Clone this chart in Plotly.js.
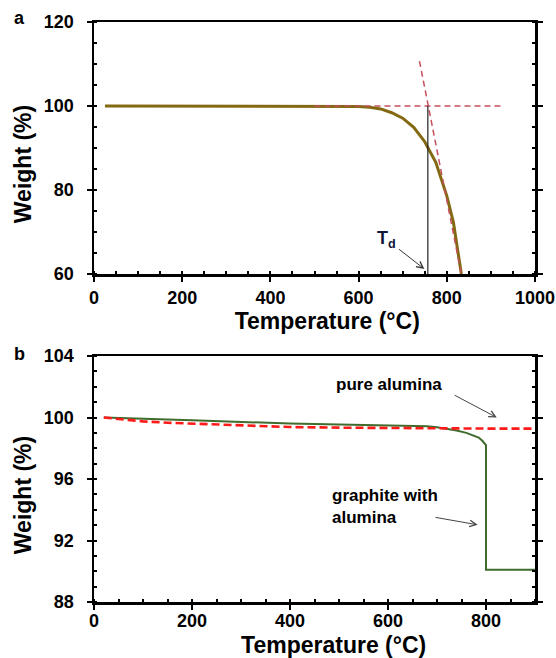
<!DOCTYPE html>
<html>
<head>
<meta charset="utf-8">
<script src="https://cdn.plot.ly/plotly-3.0.1.min.js"></script>
<style>html,body{margin:0;padding:0;background:#fff;overflow:hidden;}#chart{width:556px;height:658px;}</style>
</head>
<body>
<div id="chart"></div>
<script>
// Panel a: TGA curve
const tempA   = [25, 100, 200, 300, 400, 500, 550, 600, 625, 650, 675, 700, 725, 750, 775, 800, 815, 825, 833];
const weightA = [100, 100, 100, 100, 100, 100, 100, 99.9, 99.7, 99.3, 98.4, 97.1, 94.9, 91.5, 86.6, 78.6, 72.3, 65.8, 60];
// onset construction lines
const baseX = [500, 922];   const baseY = [100, 100];
const tangX = [738, 833];   const tangY = [110.7, 60];
const tdX   = [757, 757];   const tdY   = [60, 100];

// Panel b
const tempGraphite   = [20, 50, 100, 150, 200, 250, 300, 400, 500, 550, 600, 650, 680, 700, 720, 740, 760, 775, 785, 792, 797, 800, 800, 900];
const weightGraphite = [100, 99.98, 99.93, 99.87, 99.82, 99.76, 99.70, 99.61, 99.54, 99.51, 99.50, 99.48, 99.43, 99.36, 99.27, 99.15, 99.0, 98.85, 98.7, 98.5, 98.35, 98.2, 90.1, 90.1];
const tempAlumina    = [20, 50, 100, 150, 200, 300, 400, 500, 600, 700, 800, 900];
const weightAlumina  = [100, 99.9, 99.75, 99.66, 99.6, 99.47, 99.38, 99.34, 99.31, 99.29, 99.28, 99.28];

const xTicksA = [0, 200, 400, 600, 800, 1000];
const yTicksA = [60, 80, 100, 120];
const xTicksB = [0, 200, 400, 600, 800];
const yTicksB = [88, 92, 96, 100, 104];

const FONT = 'Liberation Sans, Arial, sans-serif';
const tickFont = {family: FONT, size: 18, color: '#000', weight: 700};
const titleFont = {family: FONT, size: 23, color: '#000', weight: 700};
const pad = n => '<span>' + '\u00a0'.repeat(n) + '</span>';

function axisBase(mirror) {
  return {
    showline: true, linewidth: 2.5, linecolor: '#000', mirror: mirror,
    showgrid: false, zeroline: false,
    ticks: 'outside', ticklen: 5, tickwidth: 2, tickcolor: '#000',
    tickfont: tickFont, automargin: false, fixedrange: true,
    ticklabeloverflow: 'allow'
  };
}

const traces = [
  {x: tempA, y: weightA, xaxis: 'x', yaxis: 'y', mode: 'lines', line: {color: '#836912', width: 3}},
  {x: baseX, y: baseY, xaxis: 'x', yaxis: 'y', mode: 'lines', line: {color: '#c4505c', width: 1.5, dash: '6px,4px'}},
  {x: tangX, y: tangY, xaxis: 'x', yaxis: 'y', mode: 'lines', line: {color: '#c4505c', width: 1.5, dash: '6px,4px'}},
  {x: tdX, y: tdY, xaxis: 'x', yaxis: 'y', mode: 'lines', line: {color: '#222', width: 1.2}},
  {x: tempGraphite, y: weightGraphite, xaxis: 'x2', yaxis: 'y2', mode: 'lines', line: {color: '#3f6b2c', width: 2}},
  {x: tempAlumina, y: weightAlumina, xaxis: 'x2', yaxis: 'y2', mode: 'lines', line: {color: '#ff1a1a', width: 2.6, dash: '8px,4px'}}
];

const layout = {
  width: 556, height: 658,
  margin: {l: 94, r: 21, t: 22, b: 56},
  paper_bgcolor: '#fff', plot_bgcolor: '#fff',
  showlegend: false,
  xaxis: Object.assign(axisBase(true), {
    anchor: 'y', domain: [0, 1], range: [0, 1000],
    tickvals: xTicksA, ticktext: xTicksA.map(String), ticklabelstandoff: 1,
    minor: {dtick: 50, ticks: 'inside', ticklen: 3, tickwidth: 2, tickcolor: '#000'},
    title: {text: pad(4) + 'Temperature (°C)', font: titleFont, standoff: 0}
  }),
  yaxis: Object.assign(axisBase('all'), {
    anchor: 'x', domain: [0.5655, 1], range: [60, 120],
    tickvals: yTicksA, ticktext: yTicksA.map(String), ticklabelstandoff: 9,
    minor: {dtick: 5, ticks: 'inside', ticklen: 3, tickwidth: 2, tickcolor: '#000'},
    title: {text: 'Weight (%)' + pad(5), font: titleFont, standoff: 6}
  }),
  xaxis2: Object.assign(axisBase(true), {
    anchor: 'y2', domain: [0, 1], range: [0, 900],
    tickvals: xTicksB, ticktext: xTicksB.map(String), ticklabelstandoff: -4,
    minor: {dtick: 50, ticks: 'inside', ticklen: 3, tickwidth: 2, tickcolor: '#000'},
    title: {text: pad(6) + 'Temperature (°C)', font: titleFont, standoff: 8}
  }),
  yaxis2: Object.assign(axisBase('all'), {
    anchor: 'x2', domain: [0, 0.4241], range: [88, 104],
    tickvals: yTicksB, ticktext: yTicksB.map(String), ticklabelstandoff: 9,
    minor: {dtick: 1, ticks: 'inside', ticklen: 3, tickwidth: 2, tickcolor: '#000'},
    title: {text: 'Weight (%)' + pad(5), font: titleFont, standoff: 6}
  }),
  annotations: [
    {xref: 'paper', yref: 'paper', x: -0.1686, y: 1.0069, xanchor: 'center', yanchor: 'middle', text: 'a', showarrow: false,
     font: {family: FONT, size: 18, color: '#000', weight: 700}},
    {xref: 'paper', yref: 'paper', x: -0.1697, y: 0.4276, xanchor: 'center', yanchor: 'middle', text: 'b', showarrow: false,
     font: {family: FONT, size: 18, color: '#000', weight: 700}},
    {xref: 'x', yref: 'y', x: 663, y: 68.3, text: 'T<sub>d</sub>', showarrow: false,
     font: {family: FONT, size: 18, color: '#10153a', weight: 700}},
    {xref: 'x', yref: 'y', axref: 'x', ayref: 'y', x: 749, y: 61.2, ax: 688, ay: 66.2, text: '',
     showarrow: true, arrowhead: 5, arrowsize: 1.3, arrowwidth: 1, arrowcolor: '#333'},
    {xref: 'x2', yref: 'y2', x: 603, y: 102.15, text: 'pure alumina', showarrow: false,
     font: {family: FONT, size: 17, color: '#000', weight: 700}},
    {xref: 'x2', yref: 'y2', axref: 'x2', ayref: 'y2', x: 822, y: 100.0, ax: 733, ay: 101.5, text: '',
     showarrow: true, arrowhead: 5, arrowsize: 1.3, arrowwidth: 1, arrowcolor: '#444'},
    {xref: 'x2', yref: 'y2', x: 481, y: 94.2, xanchor: 'left', align: 'left', text: 'graphite with<br>alumina', showarrow: false,
     font: {family: FONT, size: 17, color: '#000', weight: 700}},
    {xref: 'x2', yref: 'y2', axref: 'x2', ayref: 'y2', x: 783, y: 93.02, ax: 694, ay: 93.52, text: '',
     showarrow: true, arrowhead: 5, arrowsize: 1.3, arrowwidth: 1, arrowcolor: '#444'}
  ]
};

Plotly.newPlot('chart', traces, layout, {displayModeBar: false, staticPlot: true});
</script>
</body>
</html>
